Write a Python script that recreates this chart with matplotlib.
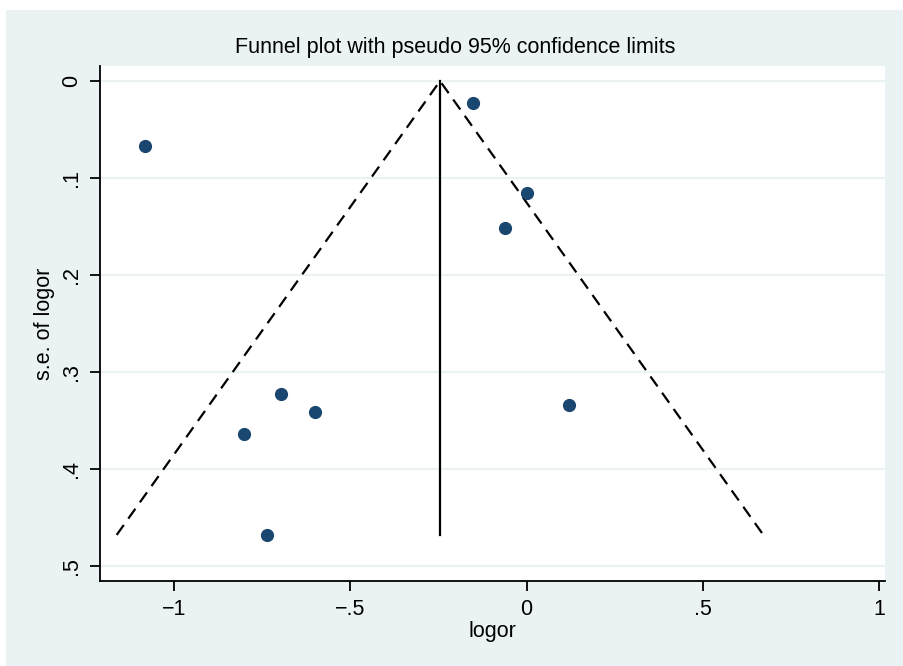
import numpy as np
import matplotlib.pyplot as plt
from matplotlib.patches import Rectangle

# study estimates
logor = [-1.082, -0.152, 0.0, -0.061, -0.696, -0.600, -0.801, 0.121, -0.736]
se_logor = [0.067, 0.023, 0.1155, 0.1515, 0.323, 0.341, 0.364, 0.334, 0.468]
pooled = -0.2454

xticks = [-1, -0.5, 0, 0.5, 1]
xlabels = ["\u22121", "\u2212.5", "0", ".5", "1"]
yticks = [0, 0.1, 0.2, 0.3, 0.4, 0.5]
ylabels = ["0", ".1", ".2", ".3", ".4", ".5"]

bg = "#eaf2f3"
dot = "#1a476f"

plt.rcParams['font.family'] = ['Liberation Sans', 'DejaVu Sans']

fig = plt.figure(figsize=(9.04, 6.66), dpi=100, facecolor="white")
fig.patches.append(Rectangle((6 / 904, 0), 1, 1 - 10 / 666, transform=fig.transFigure,
                             facecolor=bg, edgecolor="none", zorder=-10))
ax = fig.add_axes([100 / 904, 1 - 581 / 666, 785 / 904, 515 / 666])
ax.set_facecolor("white")

se_max = max(se_logor)
ax.plot([pooled, pooled], [0, se_max], color="black", lw=1.6)
ax.plot([pooled - 1.96 * se_max, pooled, pooled + 1.96 * se_max], [se_max, 0, se_max],
        color="black", lw=1.6, ls=(0, (5.5, 3.5)))
ax.plot(logor, se_logor, "o", color=dot, markersize=8.5, ls="none")

ax.set_xlim(-1.21, 1.017)
ax.set_ylim(0.5155, -0.0155)
ax.set_xticks(xticks)
ax.set_xticklabels(xlabels)
ax.set_yticks(yticks)
ax.set_yticklabels(ylabels, rotation=90, va="center")
ax.grid(axis="y", color=bg, lw=1.5)
ax.set_axisbelow(True)
for s in ["top", "right"]:
    ax.spines[s].set_visible(False)
for s in ["left", "bottom"]:
    ax.spines[s].set_linewidth(1.3)
ax.tick_params(labelsize=15.5, length=7, width=1.3, pad=6)
ax.set_xlabel("logor", fontsize=15.5, labelpad=1)
ax.set_ylabel("s.e. of logor", fontsize=15.5, labelpad=4)

fig.text(455 / 904, 1 - 47 / 666, "Funnel plot with pseudo 95% confidence limits",
         ha="center", va="center", fontsize=15.5)

fig.savefig("out.png", dpi=100, facecolor=fig.get_facecolor())
